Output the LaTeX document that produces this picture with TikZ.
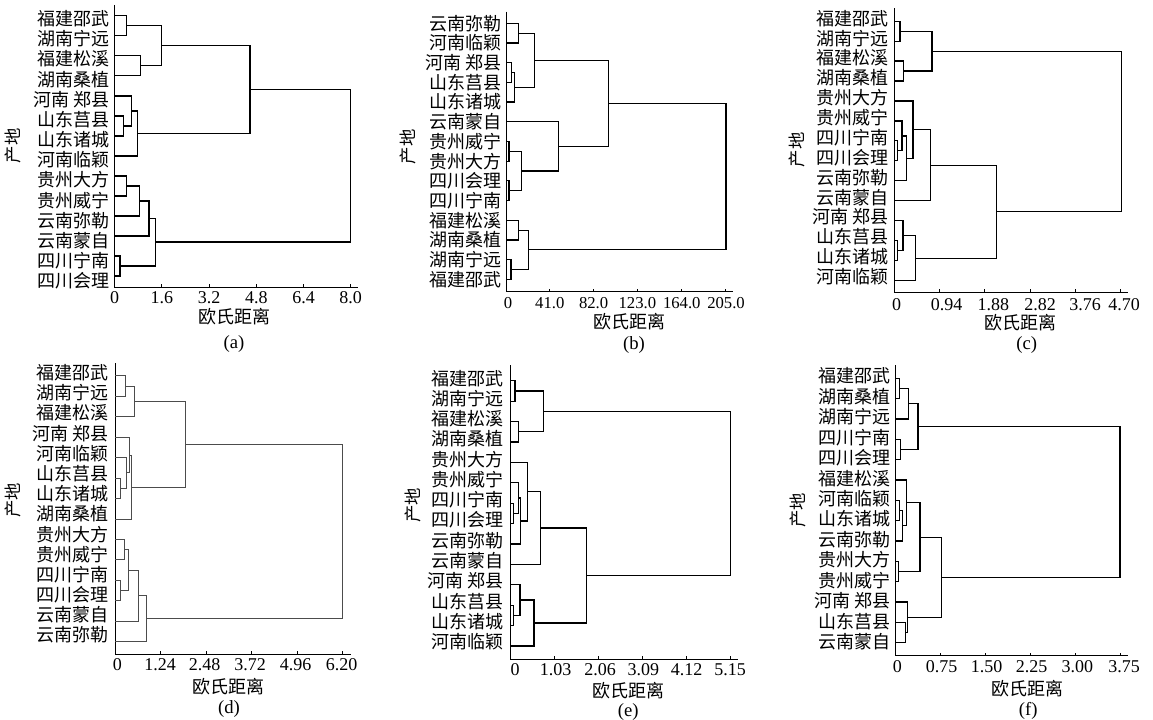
\documentclass[tikz,border=0pt]{standalone}
\usepackage{fontspec}
\setmainfont{Liberation Serif}
\newfontfamily\zhfont{Noto Sans CJK SC}
\usetikzlibrary{calc}

\tikzset{
  dgaxis/.style={line width=0.75pt},
  dgline/.style={line width=0.9pt},
  dgleaf/.style={anchor=east, inner sep=0pt, font=\zhfont\fontsize{13.5}{16}\selectfont},
  dgnum/.style={inner sep=0pt, font=\fontsize{13.5}{16}\selectfont},
  dgtitle/.style={inner sep=0pt, font=\zhfont\fontsize{13.5}{16}\selectfont},
  dgtag/.style={inner sep=0pt, font=\fontsize{14}{16}\selectfont},
  dgplace/.style={inner sep=0pt, rotate=90, font=\zhfont\fontsize{13}{16}\selectfont},
}

% leaves: prefix, axis x, label right x, leaf y0, leaf step, label y0, label step, names
\newcommand\dgleaves[8]{%
  \foreach \t [count=\i from 0] in {#8} {
    \coordinate (#1\i) at (#2,{#4+\i*#5});
    \node[dgleaf] (#1T\i) at (#3,{#6+\i*#7}) {\t};
  }
}
% merge of two clusters at horizontal position #4
\newcommand\dgmerge[4]{%
  \coordinate (#1c) at ($(#2)!0.5!(#3)$);
  \coordinate (#1) at (#4,0 |- #1c);
  \draw[dgline] (#2) -- (#2 -| #1) -- (#3 -| #1) -- (#3);
}
% axes: prefix, origin x, top y, bottom y, end x
\newcommand\dgaxes[5]{%
  \coordinate (#1Top) at (#2,#3);
  \coordinate (#1O) at (#2,#4);
  \coordinate (#1End) at (#5,#4);
  \draw[dgaxis] (#1Top) -- (#1O) -- (#1End);
}

\begin{document}
\begin{tikzpicture}[x=0.75pt,y=-0.75pt]
\fill[white] (0,0) rectangle (1153,720);
\useasboundingbox (0,0) rectangle (1153,720);

%% (a)
\begin{scope}[dgline/.style={line width=1.1pt}]
\dgaxes{a}{114.7}{5}{287.5}{358.3}
\foreach \x in {161.9,209.1,256.3,303.5,350.7} \draw[dgaxis] (\x,287.5) -- ++(0,-3);
\foreach \x/\l [count=\k] in {114.7/0,161.9/1.6,209.1/3.2,256.3/4.8,303.5/6.4,350.7/8.0}
  \node[dgnum] (aN\k) at (\x,298) {\l};
\node[dgtitle] (aTitle) at (234.3,316.7) {欧氏距离};
\node[dgtag] (aTag) at (234,344) {(a)};
\node[dgplace] (aPlace) at (13,146) {产地};
\dgleaves{a}{114.7}{110}{15.7}{20.02}{18.8}{20.15}{福建邵武,湖南宁远,福建松溪,湖南桑植,河南 郑县,山东莒县,山东诸城,河南临颖,贵州大方,贵州威宁,云南弥勒,云南蒙自,四川宁南,四川会理}
\dgmerge{aMa}{a0}{a1}{126.7}
\dgmerge{aMb}{a2}{a3}{140.7}
\dgmerge{aMc}{aMa}{aMb}{161.3}
\dgmerge{aMd}{a5}{a6}{123.3}
\dgmerge{aMe}{a4}{aMd}{131.7}
\dgmerge{aMf}{aMe}{a7}{137.3}
\dgmerge{aMg}{aMc}{aMf}{250}
\dgmerge{aMh}{a8}{a9}{126.7}
\dgmerge{aMi}{aMh}{a10}{139.3}
\dgmerge{aMj}{aMi}{a11}{149}
\dgmerge{aMk}{a12}{a13}{120}
\dgmerge{aMl}{aMj}{aMk}{155.3}
\dgmerge{aMm}{aMg}{aMl}{350.7}
\end{scope}

%% (b)
\begin{scope}[dgnum/.style={inner sep=0pt, font=\fontsize{12.5}{15}\selectfont}]
\dgaxes{b}{506}{11.7}{291.7}{733.3}
\foreach \x in {549.8,593.6,637.4,681.2,725} \draw[dgaxis] (\x,291.7) -- ++(0,-3);
\foreach \x/\l [count=\k] in {508/0,549.8/41.0,593.6/82.0,637.4/123.0,681.8/164.0,726/205.0}
  \node[dgnum] (bN\k) at (\x,302.8) {\l};
\node[dgtitle] (bTitle) at (629,321.7) {欧氏距离};
\node[dgtag] (bTag) at (634,345) {(b)};
\node[dgplace] (bPlace) at (408.3,146.7) {产地};
\dgleaves{b}{506}{501.7}{23.3}{19.7}{23.3}{19.7}{云南弥勒,河南临颖,河南 郑县,山东莒县,山东诸城,云南蒙自,贵州威宁,贵州大方,四川会理,四川宁南,福建松溪,湖南桑植,湖南宁远,福建邵武}
\dgmerge{bMa}{b0}{b1}{518.3}
\dgmerge{bMb}{b2}{b3}{511.7}
\dgmerge{bMc}{bMb}{b4}{514.5}
\dgmerge{bMd}{bMa}{bMc}{534.5}
\dgmerge{bMe}{b6}{b7}{509}
\dgmerge{bMf}{b8}{b9}{509}
\dgmerge{bMg}{bMe}{bMf}{521.7}
\dgmerge{bMh}{b5}{bMg}{558.3}
\dgmerge{bMi}{bMd}{bMh}{608.7}
\dgmerge{bMj}{b10}{b11}{518.3}
\dgmerge{bMk}{b12}{b13}{511}
\dgmerge{bMl}{bMj}{bMk}{528.3}
\dgmerge{bMm}{bMi}{bMl}{726}
\end{scope}

%% (c)
\begin{scope}
\dgaxes{c}{894}{8.3}{292.3}{1127.7}
\foreach \x in {939.3,984.7,1030,1075.3,1120.7} \draw[dgaxis] (\x,292.3) -- ++(0,-3);
\foreach \x/\l [count=\k] in {896.7/0,946.7/0.94,993.3/1.88,1040/2.82,1085/3.76,1124/4.70}
  \node[dgnum] (cN\k) at (\x,305) {\l};
\node[dgtitle] (cTitle) at (1020.3,322.7) {欧氏距离};
\node[dgtag] (cTag) at (1026.7,345) {(c)};
\node[dgplace] (cPlace) at (796.7,150) {产地};
\dgleaves{c}{894}{889}{21.2}{19.95}{18.3}{19.88}{福建邵武,湖南宁远,福建松溪,湖南桑植,贵州大方,贵州威宁,四川宁南,四川会理,云南弥勒,云南蒙自,河南 郑县,山东莒县,山东诸城,河南临颖}
\dgmerge{cMa}{c0}{c1}{900}
\dgmerge{cMb}{c2}{c3}{903.3}
\dgmerge{cMc}{cMa}{cMb}{932}
\dgmerge{cMd}{c6}{c7}{897.5}
\dgmerge{cMe}{c5}{cMd}{902}
\dgmerge{cMf}{cMe}{c8}{906.3}
\dgmerge{cMg}{c4}{cMf}{913}
\dgmerge{cMh}{cMg}{c9}{930.5}
\dgmerge{cMi}{c11}{c12}{897.3}
\dgmerge{cMj}{c10}{cMi}{903}
\dgmerge{cMk}{cMj}{c13}{915.5}
\dgmerge{cMl}{cMh}{cMk}{996.7}
\dgmerge{cMm}{cMc}{cMl}{1121.7}
\end{scope}

%% (d)
\begin{scope}[dgline/.style={line width=0.6pt, draw=black!70}]
\dgaxes{d}{115}{363.3}{654}{350.7}
\foreach \x in {160.5,206.1,251.6,297.2,342.7} \draw[dgaxis] (\x,654) -- ++(0,-3);
\foreach \x/\l [count=\k] in {117.3/0,160/1.24,204.5/2.48,250/3.72,295.7/4.96,341.7/6.20}
  \node[dgnum] (dN\k) at (\x,665) {\l};
\node[dgtitle] (dTitle) at (228.8,686.7) {欧氏距离};
\node[dgtag] (dTag) at (229,709.3) {(d)};
\node[dgplace] (dPlace) at (13.3,500) {产地};
\dgleaves{d}{115}{108.3}{375.7}{20.46}{372.7}{20.18}{福建邵武,湖南宁远,福建松溪,河南 郑县,河南临颖,山东莒县,山东诸城,湖南桑植,贵州大方,贵州威宁,四川宁南,四川会理,云南蒙自,云南弥勒}
\dgmerge{dMa}{d0}{d1}{125}
\dgmerge{dMb}{dMa}{d2}{134}
\dgmerge{dMc}{d5}{d6}{120}
\dgmerge{dMd}{d4}{dMc}{126.7}
\dgmerge{dMe}{d3}{dMd}{129.3}
\dgmerge{dMf}{dMe}{d7}{131}
\dgmerge{dMg}{dMb}{dMf}{185.3}
\dgmerge{dMh}{d8}{d9}{124}
\dgmerge{dMi}{d10}{d11}{120}
\dgmerge{dMj}{dMh}{dMi}{128.3}
\dgmerge{dMk}{dMj}{d12}{138.3}
\dgmerge{dMl}{dMk}{d13}{146.7}
\dgmerge{dMm}{dMg}{dMl}{342.7}
\end{scope}

%% (e)
\begin{scope}
\dgaxes{e}{510.7}{365}{659.3}{738.3}
\foreach \x in {554.7,598.7,642.7,686.7,730.7} \draw[dgaxis] (\x,659.3) -- ++(0,-3);
\foreach \x/\l [count=\k] in {515/0,555.7/1.03,600/2.06,643.3/3.09,686.7/4.12,730/5.15}
  \node[dgnum] (eN\k) at (\x,670) {\l};
\node[dgtitle] (eTitle) at (628,690.7) {欧氏距离};
\node[dgtag] (eTag) at (628.3,711.7) {(e)};
\node[dgplace] (ePlace) at (413.3,505) {产地};
\dgleaves{e}{510.7}{504}{380.7}{20.4}{378.3}{20.26}{福建邵武,湖南宁远,福建松溪,湖南桑植,贵州大方,贵州威宁,四川宁南,四川会理,云南弥勒,云南蒙自,河南 郑县,山东莒县,山东诸城,河南临颖}
\dgmerge{eMa}{e0}{e1}{515}
\dgmerge{eMb}{e2}{e3}{518.3}
\dgmerge{eMc}{eMa}{eMb}{543.3}
\dgmerge{eMd}{e6}{e7}{513.3}
\dgmerge{eMe}{e5}{eMd}{518.3}
\dgmerge{eMf}{eMe}{e8}{520.7}
\dgmerge{eMg}{e4}{eMf}{527.3}
\dgmerge{eMh}{eMg}{e9}{540.7}
\dgmerge{eMi}{e11}{e12}{513.3}
\dgmerge{eMj}{e10}{eMi}{520}
\dgmerge{eMk}{eMj}{e13}{534}
\dgmerge{eMl}{eMh}{eMk}{586.7}
\dgmerge{eMm}{eMc}{eMl}{730.7}
\end{scope}

%% (f)
\begin{scope}
\dgaxes{f}{895}{365}{655.7}{1128.3}
\foreach \x in {940,985,1030,1075,1120} \draw[dgaxis] (\x,655.7) -- ++(0,-3);
\foreach \x/\l [count=\k] in {897.3/0,941.7/0.75,986.7/1.50,1031.7/2.25,1077.3/3.00,1124/3.75}
  \node[dgnum] (fN\k) at (\x,666.7) {\l};
\node[dgtitle] (fTitle) at (1027.3,688.3) {欧氏距离};
\node[dgtag] (fTag) at (1028.3,710.7) {(f)};
\node[dgplace] (fPlace) at (798.3,510) {产地};
\dgleaves{f}{895}{890.7}{378.3}{20.34}{376}{20.44}{福建邵武,湖南桑植,湖南宁远,四川宁南,四川会理,福建松溪,河南临颖,山东诸城,云南弥勒,贵州大方,贵州威宁,河南 郑县,山东莒县,云南蒙自}
\dgmerge{fMa}{f0}{f1}{899.3}
\dgmerge{fMb}{fMa}{f2}{908.3}
\dgmerge{fMc}{f3}{f4}{900.7}
\dgmerge{fMd}{fMb}{fMc}{918}
\dgmerge{fMe}{f6}{f7}{899.3}
\dgmerge{fMf}{fMe}{f8}{902.7}
\dgmerge{fMg}{f5}{fMf}{906.7}
\dgmerge{fMh}{f9}{f10}{898.3}
\dgmerge{fMi}{fMg}{fMh}{920}
\dgmerge{fMj}{f12}{f13}{905.7}
\dgmerge{fMk}{f11}{fMj}{907.3}
\dgmerge{fMl}{fMi}{fMk}{941.7}
\dgmerge{fMm}{fMd}{fMl}{1120}
\end{scope}
\end{tikzpicture}
\end{document}
